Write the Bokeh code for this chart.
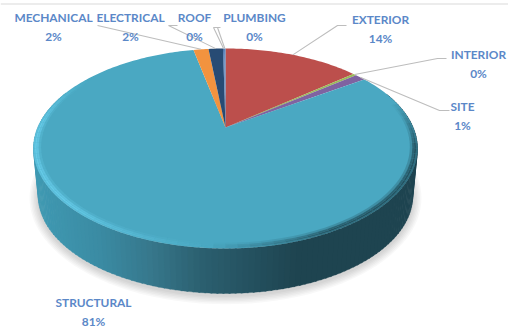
import numpy as np
from bokeh.embed import file_html
from bokeh.models import ColumnDataSource, Range1d
from bokeh.plotting import figure
from bokeh.resources import INLINE
from bokeh.core.properties import value

# Share of each trade, clockwise from twelve o'clock
categories = ["EXTERIOR", "INTERIOR", "SITE", "STRUCTURAL", "MECHANICAL", "ELECTRICAL", "ROOF", "PLUMBING"]
shares = [14.05, 0.35, 1.1, 81.3, 1.55, 1.5, 0.1, 0.15]
slice_colors = ["#BC4F4C", "#9BBB59", "#7F63A1", "#4AA8C2", "#F2933F", "#274B74", "#3F6DA8", "#4F81BD"]

# Where each caption sits, and the elbow its leader line leaves from
label_x = [380, 478, 462, 93, 53, 130, 194, 254]
label_y = [19, 54, 106, 302, 17, 17, 17, 17]
leader_start = [(346, 25), (446, 58), (449, 110), None, (97, 25), (177, 25), (220, 27), (217, 27)]
leader_elbow = [(337, 25), (437, 58), (439, 110), None, None, (168, 25), (213, 27), None]

# Wall colour across the width of the disc
wall_stops_x = [33, 100, 150, 200, 254, 295, 420]
wall_stops_rgb = [(64, 155, 180), (59, 139, 163), (55, 120, 140), (44, 96, 112), (36, 80, 94), (31, 69, 81), (30, 68, 80)]

TEXT_COLOR = "#5B88C8"
LEADER_COLOR = "#BDBDBD"
LIGHT_RIM = "#66CBE8"
DARK_RIM = "#1E4450"

# Disc drawn as a circle seen in perspective
CX, CY = 225.0, 127.0
RX, RY, TILT = 187.7, 95.6, 0.21
WALL_DROP, WALL_SCALE = 48.0, 0.975


def top_point(theta_deg, r=1.0):
    t = np.radians(theta_deg)
    u, v = r * np.sin(t), r * np.cos(t)
    w = 1 + TILT * v
    return CX + RX * u / w, CY - RY * v / w


def wall_point(theta_deg):
    x, y = top_point(theta_deg)
    return CX + (x - CX) * WALL_SCALE, CY + WALL_DROP + (y - CY) * WALL_SCALE


p = figure(width=508, height=328, output_backend="svg", toolbar_location=None,
           x_range=Range1d(0, 508), y_range=Range1d(328, 0), min_border=0)
p.axis.visible = False
p.grid.visible = False
p.outline_line_color = None
p.background_fill_color = "#FFFFFF"
p.border_fill_color = "#FFFFFF"

# Thin rule along the top of the frame
p.segment(x0=[0], y0=[3.5], x1=[508], y1=[3.5], line_color="#DADADA", line_width=1.2)

# Soft drop shadow under the disc
thetas = np.arange(0, 360, 3.0)
for grow in [9, 7.5, 6, 4.5, 3, 1.5]:
    xs, ys = wall_point(thetas)
    ex, ey = xs + (xs - CX) / 190 * grow, ys + (ys - 195) / 100 * grow + 2
    p.patch(ex, ey, fill_color="#000000", fill_alpha=0.028, line_color=None)

# Side wall built from narrow shaded strips
wall_xs, wall_ys, wall_cols = [], [], []
step = 1.5
for th in np.arange(68, 292, step):
    a = th - 0.2
    b = th + step + 0.2
    x0, y0 = top_point(a)
    x1, y1 = top_point(b)
    x2, y2 = wall_point(b)
    x3, y3 = wall_point(a)
    wall_xs.append([x0, x1, x2, x3])
    wall_ys.append([y0, y1, y2, y3])
    mid = (x0 + x1 + x2 + x3) / 4
    rgb = [int(np.interp(mid, wall_stops_x, [c[i] for c in wall_stops_rgb])) for i in range(3)]
    wall_cols.append("#%02X%02X%02X" % tuple(rgb))
p.patches(wall_xs, wall_ys, fill_color=wall_cols, line_color=wall_cols, line_width=0.3)

# Top face: one wedge per category
start = 0.0
mid_angles = []
for share, col in zip(shares, slice_colors):
    sweep = share / sum(shares) * 360
    arc = np.linspace(start, start + sweep, max(3, int(sweep) + 2))
    ax, ay = top_point(arc)
    p.patch(np.r_[CX, ax], np.r_[CY, ay], fill_color=col, line_color=None)
    mid_angles.append(start + sweep / 2)
    start += sweep

# Bevel along the front rim: bright on the left, dark on the right
def ramp(th, a, b, c, d):
    return np.interp(th, [a, b, c, d], [0, 1, 1, 0])


bands = [(0.962, 0.974, 0.3), (0.974, 0.984, 0.8), (0.984, 0.993, 1.0), (0.993, 1.001, 0.7)]
rim = dict(xs=[], ys=[], color=[], alpha=[])
for r0, r1, weight in bands:
    for th in np.arange(72, 305, 3.0):
        light = ramp(th, 182, 225, 272, 304) * weight * 0.95
        dark = ramp(th, 72, 100, 150, 182) * weight * 0.85
        level, col = (light, LIGHT_RIM) if light > dark else (dark, DARK_RIM)
        if level < 0.01:
            continue
        x0, y0 = top_point(th, r0)
        x1, y1 = top_point(th + 3, r0)
        x2, y2 = top_point(th + 3, r1)
        x3, y3 = top_point(th, r1)
        rim["xs"].append([x0, x1, x2, x3])
        rim["ys"].append([y0, y1, y2, y3])
        rim["color"].append(col)
        rim["alpha"].append(level)
p.patches("xs", "ys", fill_color="color", fill_alpha="alpha", line_color=None, source=ColumnDataSource(rim))

# Leader lines run from each caption to the edge of its wedge
for mid, s, e in zip(mid_angles, leader_start, leader_elbow):
    if s is None:
        continue
    ex, ey = top_point(mid)
    pts = [s] + ([e] if e else []) + [(ex, ey)]
    p.line([q[0] for q in pts], [q[1] for q in pts], line_color=LEADER_COLOR, line_width=1.1)

# Captions: name on one line, rounded share beneath
pct_gap = 19
names = dict(x=label_x, y=label_y, text=categories)
pcts = dict(x=label_x, y=[y + pct_gap for y in label_y], text=[f"{s:.0f}%" for s in shares])
for data in (names, pcts):
    p.text("x", "y", text="text", source=ColumnDataSource(data), text_align="center", text_baseline="middle",
           text_color=TEXT_COLOR, text_font=value("Lato"), text_font_size="11.9px", text_font_style="bold")

open("out.html", "w").write(file_html(p, INLINE))
